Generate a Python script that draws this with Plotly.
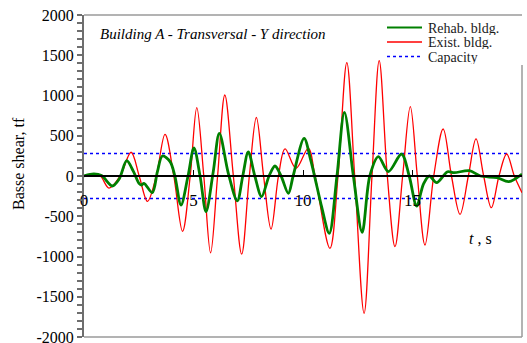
import plotly.graph_objects as go

# Time histories of base shear (tf) vs time (s)
t_exist = [0.0, 0.45, 0.75, 1.14, 1.65, 2.15, 2.52, 2.9, 3.3, 3.7, 4.1, 4.5, 4.85,
           5.15, 5.47, 5.78, 6.1, 6.43, 6.82, 7.2, 7.55, 7.87, 8.2, 8.54, 8.88,
           9.18, 9.68, 10.24, 10.55, 11.23, 11.6, 12.0, 12.36, 12.79, 13.15, 13.48,
           13.85, 14.2, 14.55, 14.9, 15.22, 15.57, 15.97, 16.4, 16.78, 17.17,
           17.55, 17.9, 18.25, 18.6, 18.95, 19.3, 19.65, 20.0]
v_exist = [0, 25, 0, -150, 0, 295, 0, -315, 0, 518, 0, -688, 0,
           850, 0, -955, 0, 1006, 0, -970, 0, 727, 0, -660, 0,
           338, 96, 344, 0, -898, 0, 1408, 0, -1706, 0, 1432,
           0, -878, 0, 861, 0, -857, 0, 584, 0, -476,
           0, 460, 0, -394, 0, 273, 0, -207]

t_rehab = [0.0, 0.45, 0.8, 1.29, 1.6, 1.95, 2.25, 2.51, 2.62, 2.74, 3.12, 3.35,
           3.58, 3.93, 4.15, 4.43, 4.75, 5.02, 5.3, 5.57, 5.9, 6.18, 6.59, 7.0,
           7.25, 7.5, 7.8, 8.11, 8.45, 8.72, 9.0, 9.33, 9.55, 10.05, 10.35, 10.62,
           10.85, 11.2, 11.55, 11.89, 12.3, 12.7, 13.05, 13.44, 13.9, 14.5, 14.85,
           15.19, 15.5, 15.77, 16.1, 16.6, 16.9, 17.6, 18.1, 18.85, 19.4, 20.0]
v_rehab = [0, 25, 5, -124, -40, 190, 60, -91, -112, -91, -207, 50,
           248, 178, 0, -360, 0, 348, 0, -443, 50, 530, 33, -310,
           0, 300, 0, -257, 0, 124, 0, -215, 0, 468, 200, -112,
           -380, -712, 0, 791, 0, -700, 0, 240, 54, 273, 0,
           -373, -100, 0, -83, 53, 41, 66, 0, -21, -70, 25]

capacity = 280
t_span = [0, 20]

y_tickvals = [-2000, -1500, -1000, -500, 0, 500, 1000, 1500, 2000]
y_ticktext = ["-2000", "-1500", "-1000", "-500", "0", "500", "1000", "1500", "2000"]
x_tickvals = [0, 5, 10, 15, 20]
x_ticktext = ["0", "5", "10", "15", "20"]

series_names = ["Rehab. bldg.", "Exist. bldg.", "Capacity"]
series_colors = ["#008000", "#ff0000", "#0000ff"]
series_widths = [2.8, 1.3, 1.5]
series_dash = ["solid", "solid", "dot"]

FONT = "Liberation Serif"
AXIS_GREY = "#6e6e6e"

fig = go.Figure()

fig.add_trace(go.Scatter(x=t_span, y=[capacity, capacity], mode="lines",
                         line=dict(color=series_colors[2], width=series_widths[2],
                                   dash=series_dash[2]),
                         name=series_names[2], showlegend=False))
fig.add_trace(go.Scatter(x=t_span, y=[-capacity, -capacity], mode="lines",
                         line=dict(color=series_colors[2], width=series_widths[2],
                                   dash=series_dash[2]),
                         showlegend=False))
fig.add_trace(go.Scatter(x=t_exist, y=v_exist, mode="lines",
                         line=dict(color=series_colors[1], width=series_widths[1],
                                   shape="spline", smoothing=1),
                         name=series_names[1], showlegend=False))
fig.add_trace(go.Scatter(x=t_rehab, y=v_rehab, mode="lines",
                         line=dict(color=series_colors[0], width=series_widths[0],
                                   shape="spline", smoothing=0.9),
                         name=series_names[0], showlegend=False))

# Frame: top, bottom and right edges (right edge stops below the key)
frame = dict(type="line", xref="paper", yref="paper", layer="below",
             line=dict(color="#9a9a9a", width=1.5))
fig.add_shape(x0=0, x1=1, y0=1, y1=1, **frame)
fig.add_shape(x0=0, x1=1, y0=0, y1=0, **frame)
fig.add_shape(x0=1, x1=1, y0=0, y1=0.845, **frame)

# Key in the upper right corner: sample line + label per series
annotations = []
key_rows_px = [27.5, 42, 56.5]
plot_top, plot_h, plot_left, plot_w = 15, 322, 84, 438
for name, color, width, dash, row in zip(series_names, series_colors,
                                         series_widths, series_dash, key_rows_px):
    yp = (plot_top + plot_h - row) / plot_h
    fig.add_shape(type="line", xref="paper", yref="paper",
                  x0=(387 - plot_left) / plot_w, x1=(422 - plot_left) / plot_w,
                  y0=yp, y1=yp, line=dict(color=color, width=min(width, 2.2), dash=dash))
    annotations.append(dict(text=name, xref="paper", yref="paper",
                            x=(426 - plot_left) / plot_w, y=yp, height=14,
                            xanchor="left", yanchor="middle", showarrow=False,
                            font=dict(family=FONT, size=14, color="#1a1a1a")))

annotations += [
    dict(text="<i>Building A - Transversal - Y direction</i>",
         xref="paper", yref="paper", x=0.032, y=0.941,
         xanchor="left", yanchor="middle", showarrow=False,
         font=dict(family=FONT, size=15, color="black")),
    dict(text="Basse shear, tf", textangle=-90,
         xref="paper", yref="paper", x=-0.151, y=0.54,
         xanchor="center", yanchor="middle", showarrow=False,
         font=dict(family=FONT, size=16, color="black")),
    dict(text="<i>t</i> , s",
         xref="paper", yref="paper", x=0.906, y=0.307,
         xanchor="center", yanchor="middle", showarrow=False,
         font=dict(family=FONT, size=16, color="black")),
]

fig.update_layout(
    width=527, height=343,
    margin=dict(l=84, r=5, t=15, b=6, autoexpand=False),
    paper_bgcolor="white", plot_bgcolor="white",
    font=dict(family=FONT, color="black", size=15),
    showlegend=False,
    xaxis=dict(range=[0, 20], anchor="free", position=0.5, automargin=False,
               showgrid=False, zeroline=False,
               showline=True, linecolor="black", linewidth=1.5,
               ticks="inside", ticklen=5, tickcolor="black", tickwidth=1,
               tickmode="array", tickvals=x_tickvals, ticktext=x_ticktext,
               ticklabelstandoff=9,
               tickfont=dict(family=FONT, size=17, color="black")),
    yaxis=dict(range=[-2000, 2000], automargin=False,
               showgrid=False, zeroline=False,
               showline=True, linecolor=AXIS_GREY, linewidth=2,
               ticks="outside", ticklen=5, tickcolor=AXIS_GREY, tickwidth=1.5,
               tickmode="array", tickvals=y_tickvals, ticktext=y_ticktext,
               ticklabeloverflow="allow",
               minor=dict(tickmode="linear", tick0=0, dtick=100, ticks="outside",
                          ticklen=5, tickcolor=AXIS_GREY, tickwidth=1.5),
               tickfont=dict(family=FONT, size=16, color="black")),
    annotations=annotations,
)

fig.write_html("out.html")
